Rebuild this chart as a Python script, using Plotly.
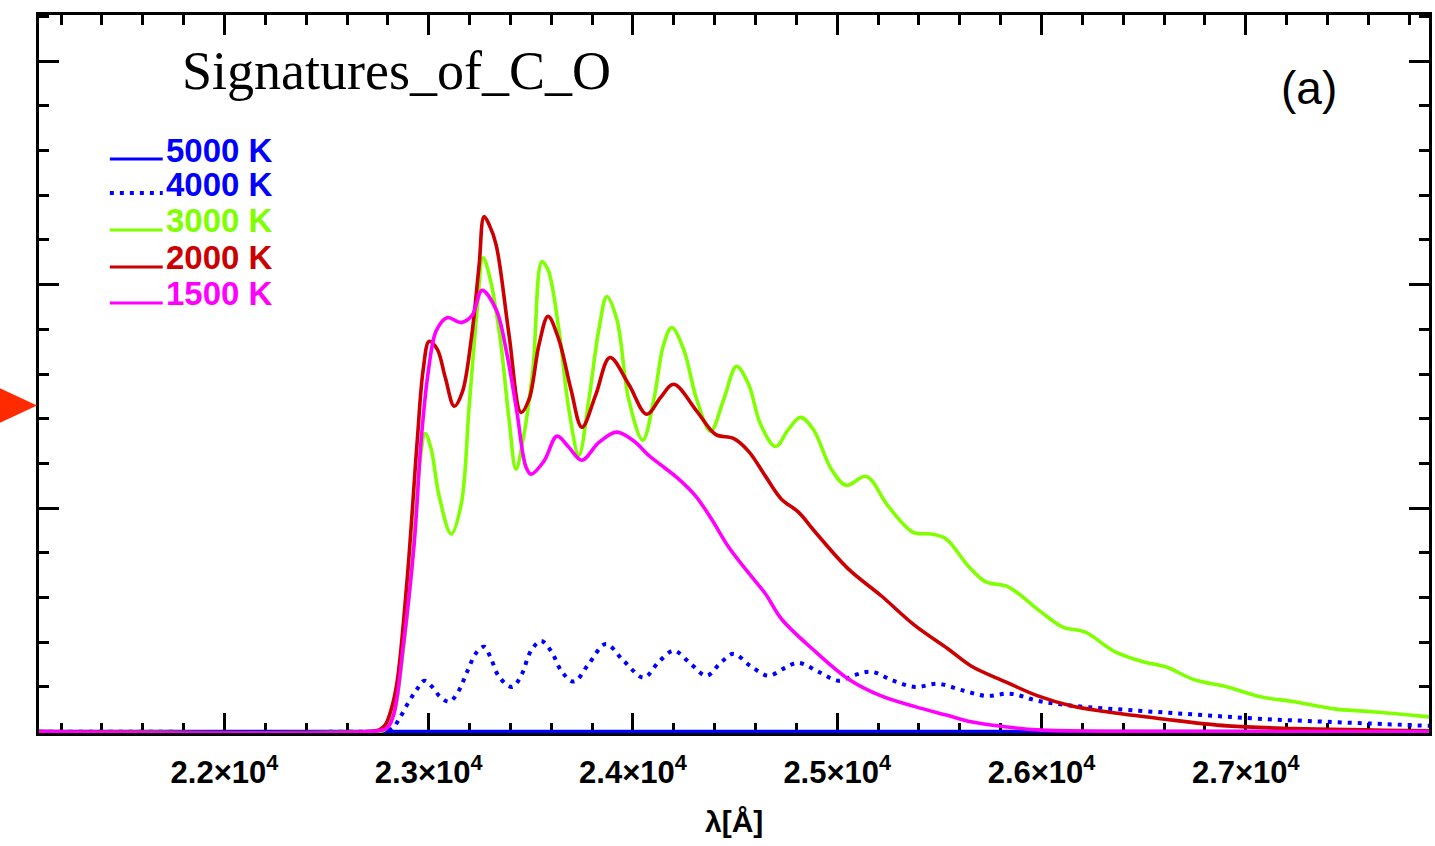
import plotly.graph_objects as go

# ---- spectra: wavelength [Angstrom] and flux (arbitrary units) ----
lam_5000 = [21090, 23000, 25000, 27900]
flux_5000 = [0.0, 0.0, 0.0, 0.0]

lam_4000 = [21090, 22700, 22783, 22822, 22861, 22905, 22944, 22978, 23017, 23056,
            23100, 23144, 23188, 23232, 23271, 23305, 23344, 23408, 23452, 23501,
            23550, 23598, 23652, 23711, 23784, 23867, 23955, 24053, 24126, 24199,
            24282, 24360, 24429, 24492, 24575, 24663, 24737, 24810, 24908, 25005,
            25088, 25167, 25274, 25381, 25494, 25616, 25728, 25846, 25982, 26153,
            26471, 26764, 27057, 27399, 27900]
flux_4000 = [0.0, 0.0, 0.01, 0.07, 0.33, 0.69, 0.96, 1.14, 1.00, 0.78,
             0.67, 0.89, 1.34, 1.76, 1.90, 1.63, 1.23, 1.00, 1.25, 1.81,
             2.03, 1.81, 1.34, 1.12, 1.52, 1.96, 1.58, 1.21, 1.56, 1.81,
             1.52, 1.25, 1.54, 1.74, 1.47, 1.25, 1.41, 1.54, 1.34, 1.14,
             1.27, 1.34, 1.14, 1.00, 1.07, 0.92, 0.80, 0.85, 0.69, 0.58,
             0.47, 0.38, 0.29, 0.22, 0.13]

lam_3000 = [21090, 22700, 22783, 22827, 22875, 22924, 22958, 22983, 23012, 23051,
            23110, 23159, 23198, 23237, 23266, 23296, 23349, 23393, 23427, 23462,
            23510, 23554, 23584, 23637, 23686, 23735, 23784, 23833, 23872, 23921,
            23979, 24048, 24102, 24150, 24190, 24248, 24312, 24380, 24444, 24507,
            24566, 24624, 24698, 24761, 24820, 24883, 24971, 25044, 25142, 25250,
            25372, 25460, 25533, 25640, 25728, 25836, 25997, 26104, 26212, 26358,
            26500, 26608, 26749, 26910, 27072, 27238, 27433, 27609, 27900]
flux_3000 = [0.0, 0.0, 0.04, 0.38, 1.81, 4.08, 6.09, 6.67, 6.32, 5.27,
             4.42, 5.09, 7.28, 9.44, 10.60, 10.22, 8.82, 6.99, 5.87, 6.54,
             8.10, 10.51, 10.33, 9.00, 7.21, 6.18, 7.43, 9.00, 9.73, 9.22,
             7.43, 6.52, 7.43, 8.66, 9.04, 8.55, 7.43, 6.72, 7.43, 8.17,
             7.77, 6.88, 6.38, 6.76, 7.03, 6.76, 5.87, 5.51, 5.71, 5.04,
             4.46, 4.42, 4.31, 3.71, 3.35, 3.24, 2.68, 2.34, 2.23, 1.79,
             1.56, 1.45, 1.16, 1.00, 0.78, 0.67, 0.51, 0.45, 0.33]

lam_2000 = [21090, 22700, 22758, 22788, 22817, 22846, 22895, 22944, 22973, 23002,
            23042, 23081, 23125, 23164, 23208, 23247, 23271, 23296, 23330, 23393,
            23452, 23491, 23540, 23584, 23637, 23696, 23750, 23818, 23887, 23979,
            24067, 24136, 24199, 24312, 24404, 24492, 24566, 24649, 24727, 24810,
            24893, 25054, 25215, 25381, 25543, 25655, 25821, 25982, 26144, 26310,
            26583, 26910, 27238, 27900]
flux_2000 = [0.0, 0.0, 0.04, 0.16, 0.51, 1.14, 3.44, 6.52, 8.10, 8.73,
             8.55, 7.92, 7.28, 7.59, 8.77, 10.45, 11.52, 11.34, 10.89, 8.88,
             7.14, 7.43, 8.66, 9.29, 8.77, 7.66, 6.81, 7.54, 8.37, 7.77,
             7.10, 7.48, 7.77, 7.17, 6.65, 6.56, 6.27, 5.71, 5.20, 4.91,
             4.46, 3.64, 3.04, 2.37, 1.85, 1.47, 1.12, 0.80, 0.58, 0.45,
             0.29, 0.13, 0.07, 0.02]

lam_1500 = [21090, 22700, 22792, 22827, 22875, 22929, 22963, 22998, 23037, 23090,
            23159, 23212, 23261, 23330, 23383, 23432, 23476, 23501, 23564, 23628,
            23686, 23750, 23833, 23921, 24004, 24077, 24150, 24224, 24307, 24385,
            24468, 24566, 24649, 24727, 24893, 25054, 25215, 25381, 25543, 25655,
            25821, 25982, 26275, 27900]
flux_1500 = [0.0, 0.0, 0.07, 0.36, 1.90, 4.22, 6.52, 8.06, 8.97, 9.26,
             9.15, 9.31, 9.87, 9.44, 8.44, 7.14, 5.92, 5.76, 6.05, 6.61,
             6.36, 6.07, 6.47, 6.70, 6.50, 6.18, 5.92, 5.65, 5.27, 4.75,
             4.13, 3.55, 3.08, 2.52, 1.79, 1.18, 0.80, 0.56, 0.36, 0.22,
             0.11, 0.04, 0.01, 0.0]

series_labels = ["5000 K", "4000 K", "3000 K", "2000 K", "1500 K"]
tick_values = [22000, 23000, 24000, 25000, 26000, 27000]
tick_labels = ["2.2×10<sup>4</sup>", "2.3×10<sup>4</sup>", "2.4×10<sup>4</sup>",
               "2.5×10<sup>4</sup>", "2.6×10<sup>4</sup>", "2.7×10<sup>4</sup>"]

# ---- styling ----
colors = ["#0000ff", "#0000ff", "#80ff00", "#cc0000", "#ff00ff"]
dashes = ["solid", "4px,6px", "solid", "solid", "solid"]
curves = [(lam_5000, flux_5000), (lam_4000, flux_4000), (lam_3000, flux_3000),
          (lam_2000, flux_2000), (lam_1500, flux_1500)]

W, H = 1435, 846
ML, MR, MT, MB = 39, 3, 15, 113
PW, PH = W - ML - MR, H - MT - MB


def pxx(px):
    return (px - ML) / PW


def pxy(py):
    return (H - MB - py) / PH


fig = go.Figure()
for (lam, flux), name, col, dash in zip(curves, series_labels, colors, dashes):
    width = 4.0 if dash != "solid" else 3.6
    fig.add_trace(go.Scatter(
        x=lam, y=flux, mode="lines", name=name, showlegend=False,
        line=dict(color=col, width=width, dash=dash, shape="spline", smoothing=1.0),
        hoverinfo="skip"))

annotations = []
shapes = []

# hand-placed key in the upper left
text_rows = [150, 184, 220, 257, 293]
line_rows = [159, 193, 230, 267, 303]
for name, col, dash, ty, ly in zip(series_labels, colors, dashes, text_rows, line_rows):
    annotations.append(dict(
        x=pxx(164), y=pxy(ty), xref="paper", yref="paper", xanchor="left",
        yanchor="middle", showarrow=False, text=name,
        font=dict(family="Liberation Sans", size=33, color=col, weight="bold")))
    shapes.append(dict(
        type="line", xref="paper", yref="paper", x0=pxx(110), x1=pxx(163),
        y0=pxy(ly), y1=pxy(ly),
        line=dict(color=col, width=4 if dash != "solid" else 3.2, dash=dash)))

annotations += [
    dict(x=pxx(180), y=pxy(71), xref="paper", yref="paper", xanchor="left",
         yanchor="middle", showarrow=False, text="Signatures_of_C_O",
         font=dict(family="Liberation Serif", size=54, color="black")),
    dict(x=pxx(1312), y=pxy(88), xref="paper", yref="paper", xanchor="center",
         yanchor="middle", showarrow=False, text="(a)",
         font=dict(family="Liberation Sans", size=46, color="black")),
    dict(x=0.5, y=pxy(821), xref="paper", yref="paper", xanchor="center",
         yanchor="middle", showarrow=False, text="λ[Å]",
         font=dict(family="Liberation Sans", size=30, color="black", weight="bold")),
]

# red pointer on the left edge
shapes.append(dict(
    type="path", xref="paper", yref="paper",
    path=f"M {pxx(37)},{pxy(405.5)} L {pxx(-5)},{pxy(386)} L {pxx(-5)},{pxy(425)} Z",
    fillcolor="#ff2a00", line=dict(width=0)))

axis_common = dict(
    showline=True, linewidth=3, linecolor="black", mirror="ticks",
    ticks="inside", ticklen=20, tickwidth=2.5, tickcolor="black",
    showgrid=False, zeroline=False, layer="below traces")

fig.update_layout(
    width=W, height=H,
    margin=dict(l=ML, r=MR, t=MT, b=MB, pad=0),
    paper_bgcolor="white", plot_bgcolor="white",
    xaxis=dict(range=[21092, 27897], tickvals=tick_values, ticktext=tick_labels,
               tickfont=dict(family="Liberation Sans", size=31, color="black",
                             weight="bold"),
               ticklabelstandoff=10,
               minor=dict(ticks="inside", ticklen=10, tickwidth=2.5,
                          tickcolor="black", dtick=200, tick0=0),
               **axis_common),
    yaxis=dict(range=[-0.03, 16.03], tick0=0, dtick=5, showticklabels=False,
               minor=dict(ticks="inside", ticklen=10, tickwidth=2.5,
                          tickcolor="black", dtick=1, tick0=0),
               **axis_common),
    annotations=annotations,
    shapes=shapes,
)

fig.write_html("out.html")
